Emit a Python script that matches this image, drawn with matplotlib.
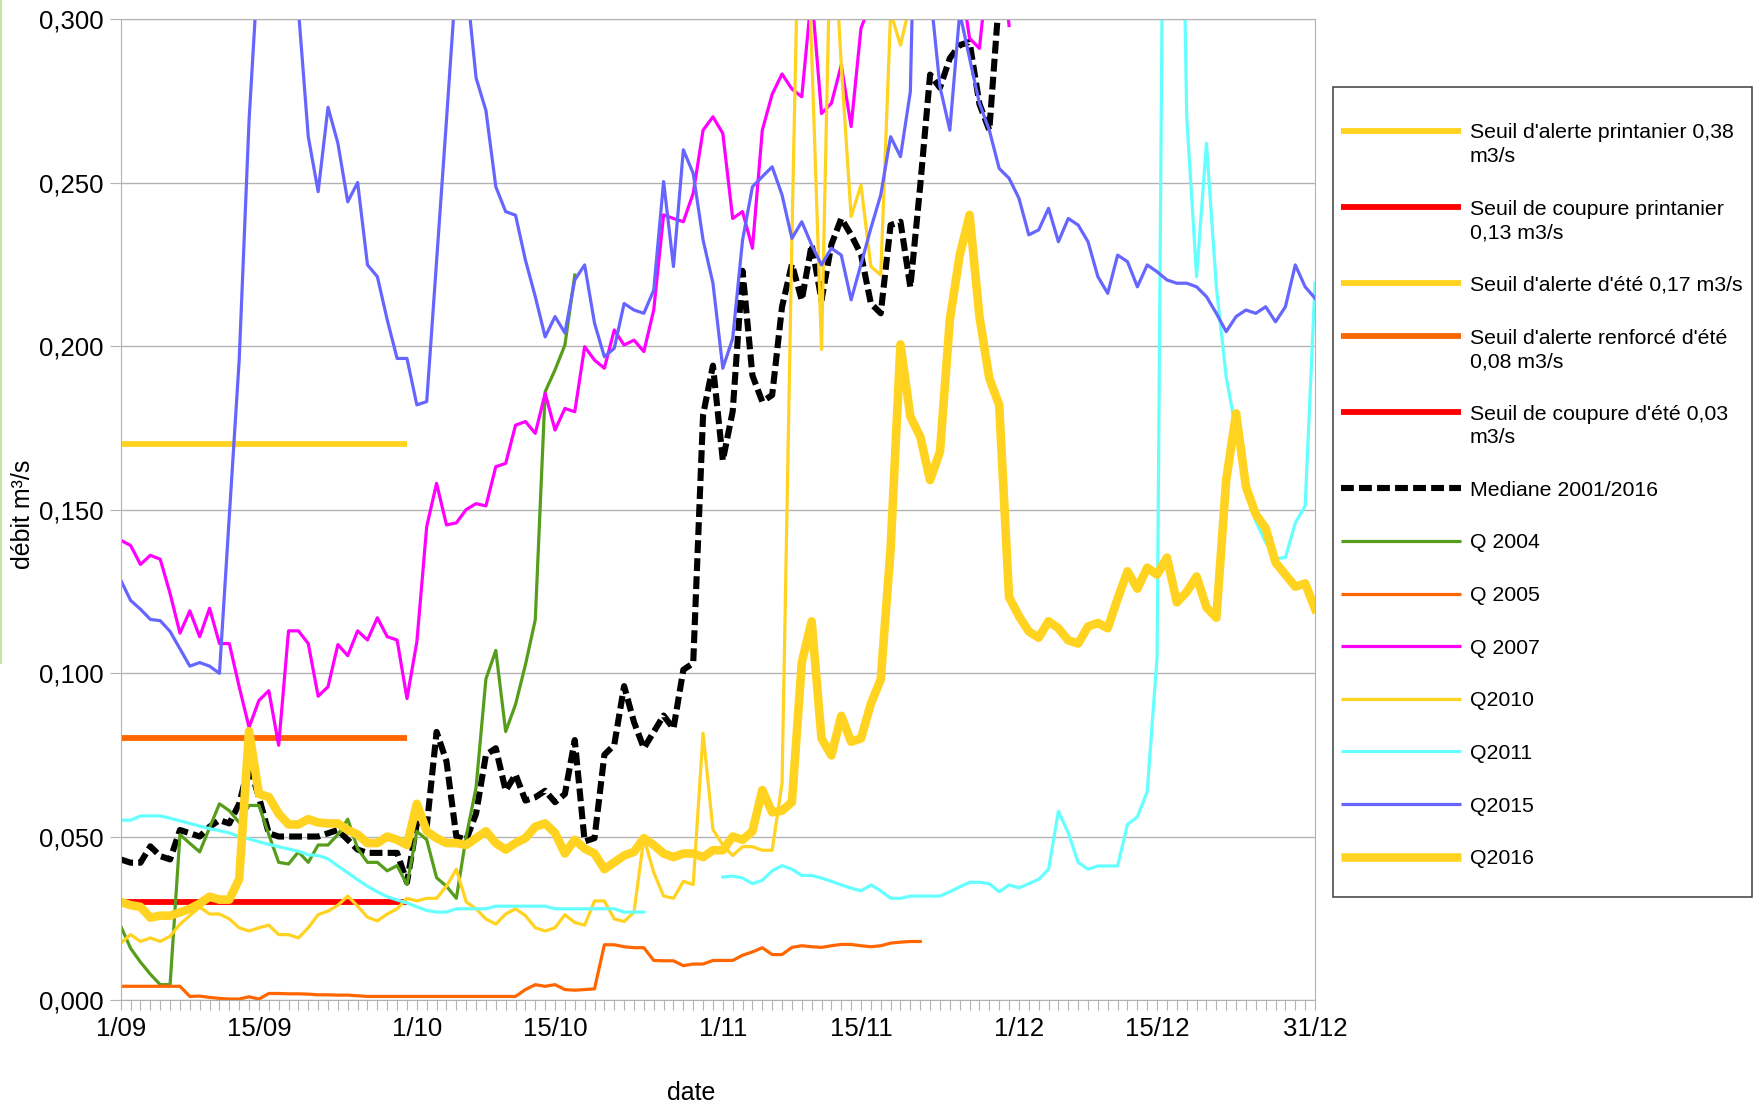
#### Workspace setup ####
import numpy as np
import matplotlib
matplotlib.use('Agg')
import matplotlib.pyplot as plt
from matplotlib.lines import Line2D
from matplotlib.patches import Rectangle
from matplotlib.ticker import FuncFormatter

plt.rcParams['font.family'] = ['Liberation Sans', 'DejaVu Sans']

#### Data ####
# day index: 0 = 1 September ... 121 = 31 December
tick_days = [0, 14, 30, 44, 61, 75, 91, 105, 121]
tick_labels = ['1/09', '15/09', '1/10', '15/10', '1/11', '15/11', '1/12', '15/12', '31/12']
y_ticks = [0.0, 0.05, 0.10, 0.15, 0.20, 0.25, 0.30]

# summer thresholds (drawn over September only)
seuil_days = [0, 29]
seuil_alerte_ete = 0.17
seuil_renforce_ete = 0.08
seuil_coupure_ete = 0.03

mediane = [0.043, 0.042, 0.042, 0.047, 0.044, 0.043, 0.052, 0.051, 0.050, 0.053,
           0.055, 0.054, 0.060, 0.072, 0.062, 0.051, 0.050, 0.050, 0.050, 0.050,
           0.050, 0.051, 0.052, 0.049, 0.046, 0.045, 0.045, 0.045, 0.045, 0.036,
           0.054, 0.053, 0.082, 0.073, 0.050, 0.049, 0.057, 0.075, 0.077, 0.064,
           0.069, 0.061, 0.062, 0.064, 0.0605, 0.063, 0.0795, 0.0485, 0.0495, 0.075,
           0.078, 0.096, 0.085, 0.077, 0.082, 0.087, 0.083, 0.101, 0.103, 0.179,
           0.194, 0.165, 0.180, 0.223, 0.191, 0.183, 0.185, 0.212, 0.225, 0.214,
           0.231, 0.214, 0.231, 0.239, 0.234, 0.228, 0.213, 0.210, 0.237, 0.238,
           0.218, 0.249, 0.283, 0.279, 0.288, 0.292, 0.293, 0.274, 0.266, 0.307]

q2004 = [0.0226, 0.0158, 0.0116, 0.0079, 0.0047, 0.0047, 0.0506, 0.0479, 0.0453, 0.0527,
         0.0600, 0.0579, 0.0543, 0.0595, 0.0595, 0.0506, 0.0421, 0.0416, 0.0453, 0.0421,
         0.0474, 0.0474, 0.0506, 0.0553, 0.0463, 0.0421, 0.0421, 0.0395, 0.0411, 0.0353,
         0.0516, 0.0490, 0.0374, 0.0348, 0.0311, 0.0500, 0.0650, 0.0982, 0.1069, 0.0821,
         0.0904, 0.1025, 0.1163, 0.1860, 0.1927, 0.2003, 0.2217]

q2005 = [0.0042, 0.0042, 0.0042, 0.0042, 0.0042, 0.0042, 0.0042, 0.0011, 0.0012, 0.0008,
         0.0005, 0.0003, 0.0003, 0.0010, 0.0003, 0.0020, 0.0020, 0.0019, 0.0019, 0.0018,
         0.0016, 0.0016, 0.0015, 0.0015, 0.0013, 0.0011, 0.0011, 0.0011, 0.0011, 0.0011,
         0.0011, 0.0011, 0.0011, 0.0011, 0.0011, 0.0011, 0.0011, 0.0011, 0.0011, 0.0011,
         0.0011, 0.0032, 0.0047, 0.0042, 0.0047, 0.0032, 0.0030, 0.0032, 0.0034, 0.0169,
         0.0169, 0.0163, 0.0160, 0.0160, 0.0121, 0.0120, 0.0120, 0.0105, 0.0110, 0.0110,
         0.0121, 0.0121, 0.0121, 0.0137, 0.0147, 0.0160, 0.0139, 0.0139, 0.0161, 0.0166,
         0.0163, 0.0161, 0.0166, 0.0170, 0.0170, 0.0166, 0.0163, 0.0166, 0.0174, 0.0177,
         0.0179, 0.0179]

q2007 = [0.1406, 0.1390, 0.1332, 0.1360, 0.1348, 0.1243, 0.1122, 0.1190, 0.1111, 0.1198,
         0.1090, 0.1090, 0.0958, 0.0834, 0.0916, 0.0946, 0.0779, 0.1129, 0.1129, 0.1090,
         0.0929, 0.0958, 0.1087, 0.1053, 0.1129, 0.1101, 0.1169, 0.1111, 0.1101, 0.0922,
         0.1095, 0.1448, 0.1580, 0.1453, 0.1459, 0.1500, 0.1518, 0.1511, 0.1631, 0.1641,
         0.1758, 0.1769, 0.1733, 0.1855, 0.1743, 0.1809, 0.1799, 0.1998, 0.1957, 0.1932,
         0.2049, 0.2003, 0.2018, 0.1983, 0.2110, 0.2401, 0.2390, 0.2380, 0.2467, 0.2660,
         0.2701, 0.2650, 0.2390, 0.2411, 0.2299, 0.2660, 0.2770, 0.2832, 0.2786, 0.2762,
         0.3080, 0.2711, 0.2742, 0.2859, 0.2671, 0.2972, 0.3050, 0.3200, 0.3300, 0.3300,
         0.3300, 0.3300, 0.3300, 0.3300, 0.3250, 0.3140, 0.2941, 0.2910, 0.3200, 0.3300,
         0.2980]

q2010 = [0.0174, 0.0200, 0.0179, 0.0190, 0.0179, 0.0195, 0.0232, 0.0258, 0.0284, 0.0263,
         0.0263, 0.0248, 0.0221, 0.0211, 0.0221, 0.0229, 0.0200, 0.0200, 0.0190, 0.0221,
         0.0261, 0.0272, 0.0290, 0.0318, 0.0287, 0.0253, 0.0242, 0.0263, 0.0279, 0.0311,
         0.0303, 0.0311, 0.0311, 0.0348, 0.0400, 0.0300, 0.0279, 0.0248, 0.0232, 0.0263,
         0.0279, 0.0258, 0.0221, 0.0211, 0.0221, 0.0261, 0.0237, 0.0229, 0.0303, 0.0303,
         0.0248, 0.0240, 0.0269, 0.0495, 0.0390, 0.0318, 0.0311, 0.0363, 0.0353, 0.0816,
         0.0521, 0.0474, 0.0442, 0.0469, 0.0469, 0.0458, 0.0458, 0.0663, 0.2330, 0.3800,
         0.2900, 0.1990, 0.3400, 0.2860, 0.2396, 0.2492, 0.2243, 0.2217, 0.3020, 0.2920,
         0.3050]

q2011 = [0.0550, 0.0550, 0.0563, 0.0563, 0.0563, 0.0556, 0.0548, 0.0540, 0.0532, 0.0524,
         0.0518, 0.0511, 0.0500, 0.0493, 0.0484, 0.0476, 0.0469, 0.0462, 0.0455, 0.0444,
         0.0442, 0.0432, 0.0410, 0.0389, 0.0368, 0.0348, 0.0331, 0.0316, 0.0306, 0.0297,
         0.0285, 0.0274, 0.0269, 0.0269, 0.0279, 0.0279, 0.0279, 0.0279, 0.0287, 0.0287,
         0.0287, 0.0287, 0.0287, 0.0287, 0.0279, 0.0279, 0.0279, 0.0279, 0.0279, 0.0279,
         0.0279, 0.0269, 0.0269, 0.0269, None, None, None, None, None, None,
         None, 0.0376, 0.0379, 0.0373, 0.0356, 0.0366, 0.0395, 0.0411, 0.0400, 0.0381,
         0.0381, 0.0373, 0.0363, 0.0352, 0.0342, 0.0334, 0.0352, 0.0334, 0.0311, 0.0311,
         0.0318, 0.0318, 0.0318, 0.0318, 0.0331, 0.0346, 0.0360, 0.0360, 0.0356, 0.0331,
         0.0352, 0.0343, 0.0356, 0.0369, 0.0400, 0.0577, 0.0511, 0.0421, 0.0400, 0.0410,
         0.0410, 0.0410, 0.0537, 0.0560, 0.0637, 0.1050, 0.5000, 0.4500, 0.2701, 0.2212,
         0.2620, 0.2181, 0.1906, 0.1740, 0.1570, 0.1464, 0.1400, 0.1350, 0.1353, 0.1459,
         0.1511, 0.2192]

q2015 = [0.1284, 0.1222, 0.1195, 0.1164, 0.1160, 0.1127, 0.1074, 0.1021, 0.1032, 0.1021,
         0.0999, 0.1480, 0.1957, 0.2690, 0.3200, 0.3400, 0.3500, 0.3300, 0.3030, 0.2640,
         0.2472, 0.2730, 0.2620, 0.2441, 0.2500, 0.2248, 0.2212, 0.2080, 0.1962, 0.1962,
         0.1820, 0.1830, 0.2260, 0.2690, 0.3130, 0.3120, 0.2820, 0.2720, 0.2487, 0.2411,
         0.2400, 0.2263, 0.2151, 0.2028, 0.2090, 0.2040, 0.2202, 0.2248, 0.2070, 0.1967,
         0.1993, 0.2130, 0.2110, 0.2100, 0.2171, 0.2503, 0.2243, 0.2600, 0.2528, 0.2324,
         0.2192, 0.1932, 0.2023, 0.2324, 0.2487, 0.2518, 0.2548, 0.2462, 0.2329, 0.2380,
         0.2309, 0.2248, 0.2299, 0.2278, 0.2141, 0.2250, 0.2360, 0.2462, 0.2640, 0.2579,
         0.2778, 0.4100, 0.3090, 0.2793, 0.2660, 0.3020, 0.2880, 0.2742, 0.2660, 0.2543,
         0.2513, 0.2452, 0.2340, 0.2355, 0.2421, 0.2319, 0.2390, 0.2370, 0.2319, 0.2212,
         0.2161, 0.2278, 0.2258, 0.2181, 0.2248, 0.2227, 0.2202, 0.2192, 0.2192, 0.2181,
         0.2151, 0.2100, 0.2044, 0.2090, 0.2110, 0.2100, 0.2120, 0.2074, 0.2120, 0.2248,
         0.2181, 0.2146]

q2016 = [0.0300, 0.0290, 0.0285, 0.0252, 0.0258, 0.0258, 0.0268, 0.0279, 0.0295, 0.0316,
         0.0307, 0.0307, 0.0370, 0.0822, 0.0630, 0.0621, 0.0570, 0.0537, 0.0537, 0.0553,
         0.0543, 0.0540, 0.0540, 0.0520, 0.0506, 0.0480, 0.0480, 0.0500, 0.0490, 0.0474,
         0.0600, 0.0516, 0.0495, 0.0480, 0.0480, 0.0474, 0.0495, 0.0516, 0.0480, 0.0460,
         0.0480, 0.0495, 0.0530, 0.0540, 0.0511, 0.0448, 0.0490, 0.0463, 0.0448, 0.0400,
         0.0421, 0.0442, 0.0453, 0.0495, 0.0474, 0.0448, 0.0437, 0.0448, 0.0448, 0.0437,
         0.0458, 0.0458, 0.0500, 0.0490, 0.0516, 0.0642, 0.0574, 0.0579, 0.0605, 0.1032,
         0.1158, 0.0800, 0.0748, 0.0869, 0.0790, 0.0800, 0.0906, 0.0980, 0.1380, 0.2005,
         0.1784, 0.1723, 0.1590, 0.1677, 0.2080, 0.2278, 0.2401, 0.2090, 0.1901, 0.1820,
         0.1232, 0.1174, 0.1127, 0.1108, 0.1158, 0.1137, 0.1100, 0.1090, 0.1142, 0.1153,
         0.1137, 0.1227, 0.1311, 0.1258, 0.1322, 0.1301, 0.1353, 0.1216, 0.1248, 0.1295,
         0.1201, 0.1169, 0.1590, 0.1794, 0.1570, 0.1485, 0.1443, 0.1338, 0.1301, 0.1264,
         0.1274, 0.1196]


def series(vals):
    y = np.array(vals, dtype=float)
    return np.arange(len(y)), y


#### Plot ####
YELLOW = '#FFD320'
fig = plt.figure(figsize=(17.55, 11.05), dpi=100)
ax = fig.add_axes([0.0688, 0.0950, 0.6805, 0.8878])

l_pr_alerte, = ax.plot([], [], color=YELLOW, lw=4.2)
l_pr_coupure, = ax.plot([], [], color='#FF0000', lw=4.2)
l_alerte, = ax.plot(seuil_days, [seuil_alerte_ete] * 2, color=YELLOW, lw=4.2, solid_capstyle='butt')
l_renforce, = ax.plot(seuil_days, [seuil_renforce_ete] * 2, color='#FF6600', lw=4.2, solid_capstyle='butt')
l_coupure, = ax.plot(seuil_days, [seuil_coupure_ete] * 2, color='#FF0000', lw=4.2, solid_capstyle='butt')
l_med, = ax.plot(*series(mediane), color='black', lw=4.4, ls=(0, (2.1, 0.85)))
l_04, = ax.plot(*series(q2004), color='#579D1C', lw=2.3)
l_05, = ax.plot(*series(q2005), color='#FF6600', lw=2.3)
l_07, = ax.plot(*series(q2007), color='#FF00FF', lw=2.3)
l_10, = ax.plot(*series(q2010), color=YELLOW, lw=2.3)
l_11, = ax.plot(*series(q2011), color='#66FFFF', lw=2.3)
l_15, = ax.plot(*series(q2015), color='#6666FF', lw=2.3)
l_16, = ax.plot(*series(q2016), color=YELLOW, lw=6.2)

ax.set_xlim(0, 121)
ax.set_ylim(0, 0.3)
ax.set_yticks(y_ticks)
ax.yaxis.set_major_formatter(FuncFormatter(lambda v, p: f'{v:.3f}'.replace('.', ',')))
all_days = np.arange(122)
ax.set_xticks(all_days)
ax.set_xticklabels([tick_labels[tick_days.index(d)] if d in tick_days else '' for d in all_days])
ax.tick_params(axis='x', length=7.4, color='#b3b3b3', labelsize=18.5, pad=5)
ax.tick_params(axis='y', length=8, color='#b3b3b3', labelsize=18.5, pad=4.5)
ax.yaxis.grid(True, color='#b3b3b3', lw=1.0)
ax.set_axisbelow(True)
for s in ax.spines.values():
    s.set_color('#b3b3b3')

ax.set_xlabel('date', fontsize=18)
ax.xaxis.set_label_coords(0.478, -0.083)
ax.set_ylabel('débit m³/s', fontsize=18)
ax.yaxis.set_label_coords(-0.072, 0.495)

#### Legend (drawn by hand so handles sit on the first text line) ####
W, H = 1755.0, 1105.0
fig.add_artist(Rectangle((1333 / W, 1 - 896.6 / H), 419 / W, 809.3 / H, transform=fig.transFigure,
                         facecolor='white', edgecolor='#3c3c3c', lw=1.1))
entries = [(l_pr_alerte, "Seuil d'alerte printanier 0,38\nm3/s"),
           (l_pr_coupure, "Seuil de coupure printanier\n0,13 m3/s"),
           (l_alerte, "Seuil d'alerte d'été 0,17 m3/s"),
           (l_renforce, "Seuil d'alerte renforcé d'été\n0,08 m3/s"),
           (l_coupure, "Seuil de coupure d'été 0,03\nm3/s"),
           (l_med, "Mediane 2001/2016"),
           (l_04, "Q 2004"),
           (l_05, "Q 2005"),
           (l_07, "Q 2007"),
           (l_10, "Q2010"),
           (l_11, "Q2011"),
           (l_15, "Q2015"),
           (l_16, "Q2016")]
y = 131.0
for line, label in entries:
    h = Line2D([1341 / W, 1461 / W], [1 - y / H] * 2)
    h.update_from(line)
    h.set_transform(fig.transFigure)
    h.set_clip_on(False)
    h.set_solid_capstyle('butt')
    fig.add_artist(h)
    for i, part in enumerate(label.split('\n')):
        fig.text(1470 / W, 1 - (y + i * 23.6) / H, part, fontsize=15.3, va='center_baseline')
    y += 52.6 + 23.6 * label.count('\n')

# thin green edge visible on the left of the original image
fig.add_artist(Line2D([0.0006, 0.0006], [1.0, 0.40], transform=fig.transFigure, color='#c5e3a5', lw=1.5))

fig.savefig('out.png', dpi=100, facecolor='white')
plt.close()
